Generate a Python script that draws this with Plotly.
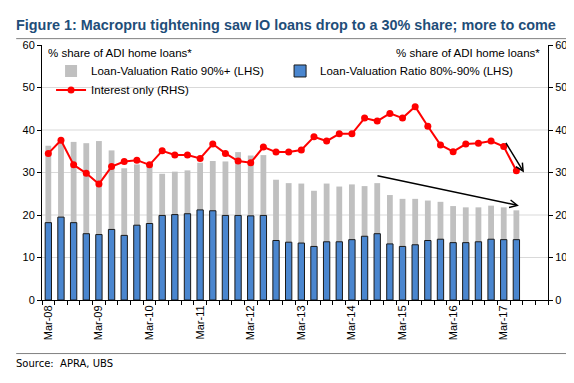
import plotly.graph_objects as go

# Quarterly categories Mar-08 .. Dec-17 (last two empty slots)
years = list(range(8, 18))
months = ["Mar", "Jun", "Sep", "Dec"]
categories = [f"{m}-{y:02d}" for y in years for m in months]
tick_labels = [c if c.startswith("Mar") else "" for c in categories]

lvr_80_90 = [18.2, 19.5, 18.2, 15.6, 15.4, 16.6, 15.2, 17.6, 18.0, 19.9,
             20.1, 20.3, 21.2, 21.0, 19.9, 19.9, 19.8, 19.9, 14.0, 13.6,
             13.4, 12.6, 13.7, 13.7, 14.2, 15.0, 15.6, 13.2, 12.6, 13.0,
             14.0, 14.3, 13.5, 13.5, 13.7, 14.3, 14.2, 14.2]
lvr_90_plus = [18.1, 17.8, 19.0, 21.3, 22.0, 18.6, 15.8, 14.3, 13.5, 9.8,
               10.1, 10.2, 11.1, 11.7, 12.7, 14.9, 14.2, 14.2, 14.3, 13.9,
               14.0, 13.1, 13.7, 13.0, 13.0, 11.8, 11.9, 11.5, 11.2, 10.8,
               9.4, 8.8, 8.6, 8.3, 8.1, 7.9, 7.6, 6.9]
interest_only = [34.5, 37.6, 31.8, 29.8, 27.3, 31.4, 32.6, 32.9, 31.8, 35.1,
                 34.1, 34.1, 33.3, 36.7, 34.5, 32.7, 32.3, 36.0, 34.8, 34.8,
                 35.3, 38.4, 37.4, 39.1, 39.1, 42.8, 42.1, 43.9, 42.8, 45.5,
                 40.9, 36.5, 34.9, 36.7, 36.9, 37.4, 36.1, 30.4]

n = len(lvr_80_90)
xs = categories[:n]

FONT = "Liberation Sans, Arial, sans-serif"

fig = go.Figure()
fig.add_trace(go.Bar(
    x=xs, y=lvr_90_plus, base=lvr_80_90, name="Loan-Valuation Ratio 90%+ (LHS)",
    marker=dict(color="#C0C0C0", line=dict(width=0)), width=0.46, legend="legend",
))
fig.add_trace(go.Bar(
    x=xs, y=lvr_80_90, name="Loan-Valuation Ratio 80%-90% (LHS)",
    marker=dict(color="#4A86CF", line=dict(color="#1a1a1a", width=1)), width=0.5,
    legend="legend2",
))
fig.add_trace(go.Scatter(
    x=xs, y=interest_only, name="Interest only (RHS)", yaxis="y2",
    mode="lines+markers", line=dict(color="#FF0000", width=2),
    marker=dict(color="#FF0000", size=7), legend="legend",
))

# grid lines (no line at 60)
for v in [10, 20, 30, 40, 50]:
    fig.add_shape(type="line", xref="paper", yref="y", x0=0, x1=1, y0=v, y1=v,
                  line=dict(color="#D9D9D9", width=1), layer="below")

# Title / source rules
fig.add_shape(type="line", xref="paper", yref="paper", x0=-0.051, x1=1.051,
              y0=1.025, y1=1.025, line=dict(color="#808080", width=1))
fig.add_shape(type="line", xref="paper", yref="paper", x0=-0.051, x1=1.051,
              y0=-0.21, y1=-0.21, line=dict(color="#808080", width=1))

fig.add_annotation(text="% share of ADI home loans*", xref="paper", yref="paper",
                   x=0.008, y=0.968, xanchor="left", yanchor="middle", showarrow=False,
                   font=dict(size=11.5, color="#000", family=FONT))
fig.add_annotation(text="% share of ADI home loans*", xref="paper", yref="paper",
                   x=0.988, y=0.968, xanchor="right", yanchor="middle", showarrow=False,
                   font=dict(size=11.5, color="#000", family=FONT))
fig.add_annotation(text="Source:  APRA, UBS", xref="paper", yref="paper",
                   x=-0.055, y=-0.25, xanchor="left", yanchor="middle", showarrow=False,
                   font=dict(size=10, color="#000", family="DejaVu Sans, Tahoma, sans-serif"))

# Arrows
fig.add_annotation(x=37.2, y=22.2, ax=25.9, ay=29.3, xref="x", yref="y",
                   axref="x", ayref="y", showarrow=True, arrowhead=5,
                   arrowsize=1, arrowwidth=1.5, arrowcolor="#000", text="")
fig.add_annotation(x=37.6, y=30.0, ax=36.1, ay=37.3, xref="x", yref="y",
                   axref="x", ayref="y", showarrow=True, arrowhead=5,
                   arrowsize=1, arrowwidth=1.5, arrowcolor="#000", text="")

fig.update_layout(
    width=574, height=383,
    margin=dict(l=34, r=34, t=37, b=91, autoexpand=False),
    paper_bgcolor="white", plot_bgcolor="white",
    barmode="overlay",
    font=dict(family=FONT, size=10, color="#000"),
    title=dict(text="<b>Figure 1: Macropru tightening saw IO loans drop to a 30% share; more to come</b>",
               x=0.014, xanchor="left", xref="container", y=0.955, yref="container",
               yanchor="middle", font=dict(size=14.4, color="#1F4E79", family=FONT)),
    showlegend=True,
    legend=dict(orientation="v", xref="container", x=0.075, y=0.955, xanchor="left",
                yanchor="top", bgcolor="rgba(0,0,0,0)", font=dict(size=11.5, family=FONT),
                traceorder="normal", itemwidth=30, tracegroupgap=0),
    legend2=dict(orientation="v", xref="container", x=0.474, y=0.955, xanchor="left",
                 yanchor="top", bgcolor="rgba(0,0,0,0)", font=dict(size=11.5, family=FONT),
                 itemwidth=30),
    xaxis=dict(type="category", categoryorder="array", categoryarray=categories,
               range=[-0.5, len(categories) - 0.5],
               tickmode="array", tickvals=categories, ticktext=tick_labels,
               tickangle=-90,
               tickfont=dict(size=11, family="Liberation Sans Narrow, Arial Narrow, Liberation Sans, sans-serif"),
               ticks="outside", ticklen=4,
               tickson="boundaries", tickcolor="#000",
               showline=True, linecolor="#000", linewidth=1, showgrid=False),
    yaxis=dict(range=[0, 60], tickvals=[0, 10, 20, 30, 40, 50, 60], showgrid=False,
               showline=True, linecolor="#000", linewidth=1, ticks="outside",
               ticklen=4, tickcolor="#000", tickfont=dict(size=11), zeroline=False),
    yaxis2=dict(range=[0, 60], tickvals=[0, 10, 20, 30, 40, 50, 60], overlaying="y",
                side="right", showgrid=False, showline=True, linecolor="#000",
                linewidth=1, ticks="outside", ticklen=4, tickcolor="#000",
                tickfont=dict(size=11), zeroline=False),
)

fig.write_html("out.html")
